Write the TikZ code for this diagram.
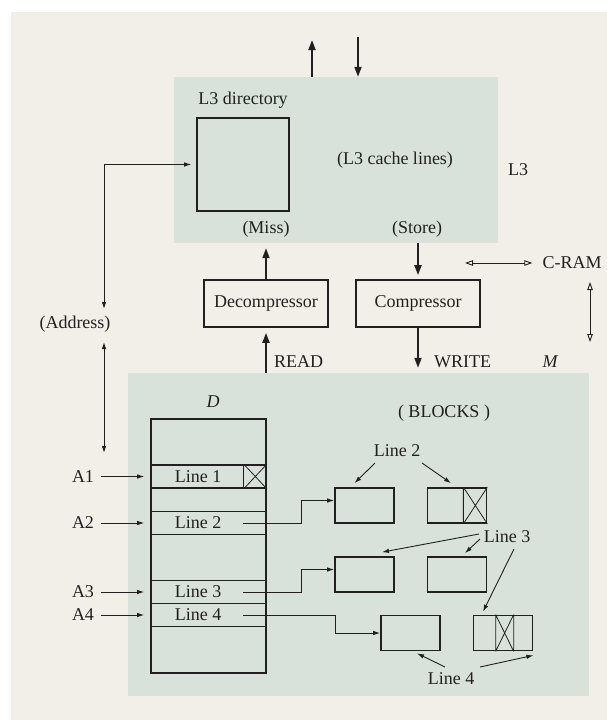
\documentclass[tikz,border=0pt]{standalone}
\usepackage{fontspec}
\setmainfont{Liberation Serif}
\usetikzlibrary{arrows.meta}
\definecolor{paper}{HTML}{F2EFE9}
\definecolor{panel}{HTML}{D8E2DB}
\definecolor{ink}{HTML}{231F20}

\begin{document}
\begin{tikzpicture}[x=1pt, y=-1pt,
      every node/.style={font=\fontsize{18}{21}\selectfont, text=ink, inner sep=0pt},
      area/.style={fill=panel, draw=none},
      unit/.style={draw=ink, line width=1.7pt, minimum width=124pt, minimum height=47pt},
      slot/.style={draw=ink, line width=1.6pt, minimum width=115pt, minimum height=23pt},
      blk/.style={draw=ink, line width=1.7pt, minimum width=59pt, minimum height=35pt},
      cross/.style={draw=ink, line width=0.8pt},
      flow/.style={-{Triangle[length=10pt,width=7pt]}, line width=1.9pt, draw=ink},
      link/.style={-{Latex[length=7pt,width=4.5pt]}, line width=0.9pt, draw=ink},
      twoway/.style={{Latex[length=7pt,width=4.5pt]}-{Latex[length=7pt,width=4.5pt]}, line width=0.9pt, draw=ink},
      hollow/.style={{Triangle[open,length=8pt,width=5.5pt]}-{Triangle[open,length=8pt,width=5.5pt]}, line width=0.9pt, draw=ink},
    ]
    \useasboundingbox (0,0) rectangle (607,720);
    \fill[white] (0,0) rectangle (607,720);
    \fill[paper] (11,12) rectangle (607,720);
    % L3 cache and main memory panels
    \node[area, minimum width=324pt, minimum height=166pt] (L3) at (336,160) {};
    \node[area, minimum width=461pt, minimum height=323pt] (M) at (358.5,534.5) {};
    % L3 contents
    \node[draw=ink, line width=1.7pt, minimum width=92pt, minimum height=93pt] (dir) at (243,164.5) {};
    \node (dirlbl) at (243,100) {L3 directory};
    \node (lines) at (395,160) {(L3 cache lines)};
    \node (l3lbl) at (518,170) {L3};
    \node (miss) at (266,229) {(Miss)};
    \node (store) at (417,229) {(Store)};
    \coordinate (out) at (312,40);
    \coordinate (in) at (358,37);
    \draw[flow] (out |- L3.north) -- (out);
    \draw[flow] (in) -- (in |- L3.north);
    % Codec units
    \node[unit] (dec) at (266,303.5) {Decompressor};
    \node[unit] (com) at (418,303.5) {Compressor};
    \draw[flow] (dec.north) -- ([yshift=-5pt]dec.north |- L3.south);
    \draw[flow, shorten >=4pt] (com.north |- L3.south) -- (com.north);
    \draw[flow, shorten >=5pt] (dec.south |- M.north) -- (dec.south);
    \draw[flow, shorten >=5pt] (com.south) -- (com.south |- M.north);
    \node[anchor=west] (rd) at (274,362) {READ};
    \node[anchor=west] (wr) at (434,362) {WRITE};
    \node (mlbl) at (550,362) {\itshape M};
    % C-RAM
    \node (cram) at (572,263) {C-RAM};
    \coordinate (cramL) at (465,263);
    \coordinate (cramT) at (590,282);
    \coordinate (cramB) at (590,342);
    \draw[hollow] (cramL) -- ([xshift=-10pt]cram.west);
    \draw[hollow] (cramT) -- (cramB);
    % Address path
    \node (addr) at (75,324) {(Address)};
    \coordinate (bus) at (104,324);
    \coordinate (busend) at (104,453);
    \draw[twoway, shorten <=15pt, shorten >=5pt] (bus) |- (dir.west);
    \draw[twoway, shorten <=18pt] (bus) -- (busend);
    % Directory D
    \node[draw=ink, line width=1.7pt, minimum width=115pt, minimum height=254pt] (D) at (208.5,546) {};
    \node (dlbl) at (213,402) {\itshape D};
    \foreach \n/\y in {1/476.5, 2/523, 3/592, 4/615} {
      \node[slot] (r\n) at (208.5,\y) {};
      \node (t\n) at ([xshift=-10.5pt]r\n.center) {Line \n};
      \node (a\n) at (83,\y) {A\n};
      \draw[link, shorten <=7pt, shorten >=6pt] (a\n) -- (r\n.west);
    }
    \draw[line width=1.3pt, draw=ink] ([xshift=-23pt]r1.north east) -- ([xshift=-23pt]r1.south east);
    \draw[cross] ([xshift=-23pt]r1.north east) -- (r1.south east)
                 ([xshift=-23pt]r1.south east) -- (r1.north east);
    % Blocks
    \node (blocks) at (444,413) {( BLOCKS )};
    \node[blk] (b21) at (364.5,505.5) {};
    \node[blk] (b22) at (457,505.5) {};
    \node[blk] (b31) at (364.5,574.5) {};
    \node[blk] (b32) at (457,574.5) {};
    \node[blk] (b41) at (410.5,633) {};
    \node[blk] (b42) at (503,633) {};
    \draw[cross] ([xshift=-24pt]b22.north east) -- ([xshift=-24pt]b22.south east)
                 ([xshift=-24pt]b22.north east) -- (b22.south east)
                 ([xshift=-24pt]b22.south east) -- (b22.north east);
    \draw[cross] ([xshift=23pt]b42.north west) -- ([xshift=23pt]b42.south west)
                 ([xshift=41pt]b42.north west) -- ([xshift=41pt]b42.south west)
                 ([xshift=23pt]b42.north west) -- ([xshift=41pt]b42.south west)
                 ([xshift=23pt]b42.south west) -- ([xshift=41pt]b42.north west);
    % Lines into blocks
    \draw[link] ([xshift=34.5pt]r2.center) -- ++(58pt,0) |- ([yshift=5pt]b21.west);
    \draw[link] ([xshift=34.5pt]r3.center) -- ++(58pt,0) |- ([yshift=5pt]b31.west);
    \draw[link] ([xshift=34.5pt]r4.center) -- ++(92pt,0) |- (b41.west);
    % Block labels
    \node (l2) at (397,451) {Line 2};
    \node (l3) at (507,537) {Line 3};
    \node (l4) at (451,679) {Line 4};
    \draw[link] ([xshift=-22pt,yshift=-12pt]l2.center) -- ([xshift=-10pt,yshift=4pt]b21.north);
    \draw[link] ([xshift=25pt,yshift=-12pt]l2.center) -- ([xshift=-6pt,yshift=4pt]b22.north);
    \draw[link] ([xshift=-28pt,yshift=3pt]l3.center) -- ([xshift=17.5pt,yshift=4pt]b31.north);
    \draw[link] ([xshift=-27pt,yshift=-2pt]l3.center) -- ([xshift=8pt,yshift=3pt]b32.north);
    \draw[link] ([xshift=7pt,yshift=-12pt]l3.center) -- ([xshift=-20pt,yshift=3pt]b42.north);
    \draw[link] ([xshift=-6pt,yshift=12pt]l4.center) -- ([xshift=6.5pt,yshift=-2pt]b41.south);
    \draw[link] ([xshift=29pt,yshift=12pt]l4.center) -- ([yshift=-4pt]b42.south east);
  \end{tikzpicture}
\end{document}
